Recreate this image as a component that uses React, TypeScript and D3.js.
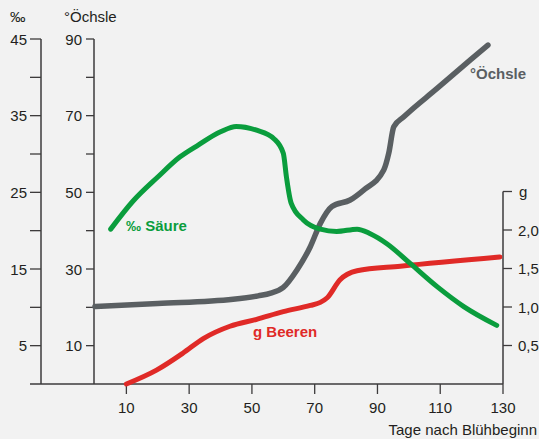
import React from "react";
import * as d3 from "d3";

const W = 539;
const H = 439;

// Säure (‰)
const saureDays = [5, 12, 20, 27, 33, 40, 45, 51.5, 57, 60, 61, 62.5, 66.4, 71.8, 77, 83.5, 87.7, 93, 100.5, 109, 117.5, 128];
const saureVals = [20.2, 23.8, 27.0, 29.6, 31.2, 32.9, 33.6, 33.1, 32.0, 30.1, 27.0, 23.6, 21.4, 20.2, 19.9, 20.2, 19.6, 18.3, 15.7, 12.7, 10.1, 7.65];

// Öchsle (°)
const oechsleDays = [0, 20, 44, 52, 56, 60, 64.3, 68.6, 71.8, 75.5, 81.3, 85.6, 92, 93.6, 95.2, 98.4, 109, 119.7, 125.2];
const oechsleVals = [20.2, 21.0, 22.1, 23.0, 23.7, 25.2, 29.7, 35.8, 41.9, 46.3, 48.0, 50.6, 55.8, 60.2, 67.1, 69.7, 77.1, 84.6, 88.4];

// Beerengewicht (g)
const beerenDays = [10, 19.6, 28, 34.5, 43, 51.5, 60, 68.6, 71.8, 74, 78, 83.5, 97.3, 129];
const beerenVals = [0, 0.18, 0.4, 0.59, 0.75, 0.84, 0.94, 1.02, 1.06, 1.12, 1.35, 1.47, 1.53, 1.65];

const xTicks = [10, 30, 50, 70, 90, 110, 130];
const saureTicks = [5, 10, 15, 20, 25, 30, 35, 40, 45];
const saureLabels = [5, 15, 25, 35, 45];
const oechsleTicks = [10, 20, 30, 40, 50, 60, 70, 80, 90];
const oechsleLabels = [10, 30, 50, 70, 90];
const gTicks = [0.5, 1.0, 1.5, 2.0, 2.5];
const gLabels = ["0,5", "1,0", "1,5", "2,0"];

const x = d3.scaleLinear().domain([0, 130]).range([95, 503]);
const yS = d3.scaleLinear().domain([0, 45]).range([384, 39]);
const yO = d3.scaleLinear().domain([0, 90]).range([384, 39]);
const yG = d3.scaleLinear().domain([0, 2.5]).range([384, 191.5]);

const AX = "#3d3b3c";
const TXT = "#231f20";
const FONT = "'Liberation Sans', Arial, sans-serif";

function mkLine(days: number[], vals: number[], y: d3.ScaleLinear<number, number>) {
  const pts = days.map((d, i) => [d, vals[i]] as [number, number]);
  return d3
    .line<[number, number]>()
    .x((p) => x(p[0]))
    .y((p) => y(p[1]))
    .curve(d3.curveMonotoneX)(pts) as string;
}

export default function App() {
  const axL = 41;
  const axO = 94;
  const base = 384;
  const axR = x(130);
  return (
    <svg
      width={W}
      height={H}
      style={{ position: "absolute", left: 0, top: 0, background: "#f2f2f2" }}
      fontFamily={FONT}
    >
      <rect x={0} y={0} width={W} height={H} fill="#f2f2f2" />
      {/* left ‰ axis */}
      <line x1={axL} x2={axL} y1={yS(45)} y2={base} stroke={AX} strokeWidth={1.5} />
      {saureTicks.map((t) => (
        <line key={"st" + t} x1={axL - 11} x2={axL} y1={yS(t)} y2={yS(t)} stroke={AX} strokeWidth={1.3} />
      ))}
      {saureLabels.map((t) => (
        <text key={"sl" + t} x={27} y={yS(t) + 5.5} fontSize={15} fill={TXT} textAnchor="end">
          {t}
        </text>
      ))}
      <text x={10} y={22} fontSize={15.5} fill={TXT}>‰</text>

      {/* Öchsle axis */}
      <line x1={axO} x2={axO} y1={yO(90)} y2={base} stroke={AX} strokeWidth={1.5} />
      {oechsleTicks.map((t) => (
        <line key={"ot" + t} x1={axO - 8} x2={axO} y1={yO(t)} y2={yO(t)} stroke={AX} strokeWidth={1.3} />
      ))}
      {oechsleLabels.map((t) => (
        <text key={"ol" + t} x={82} y={yO(t) + 5.5} fontSize={15} fill={TXT} textAnchor="end">
          {t}
        </text>
      ))}
      <text x={64} y={22} fontSize={15} fill={TXT}>°Öchsle</text>

      {/* baseline */}
      <line x1={30} x2={axR} y1={base} y2={base} stroke={AX} strokeWidth={1.5} />
      {xTicks.map((t) => (
        <g key={"xt" + t}>
          <line x1={x(t)} x2={x(t)} y1={base} y2={base + 10} stroke={AX} strokeWidth={1.3} />
          <text x={x(t)} y={413} fontSize={15} fill={TXT} textAnchor="middle">
            {t}
          </text>
        </g>
      ))}
      <text x={537} y={435} fontSize={15} fill={TXT} textAnchor="end">Tage nach Blühbeginn</text>

      {/* right g axis */}
      <line x1={axR} x2={axR} y1={yG(2.5)} y2={base} stroke={AX} strokeWidth={1.5} />
      {gTicks.map((t) => (
        <line key={"gt" + t} x1={axR} x2={axR + 9} y1={yG(t)} y2={yG(t)} stroke={AX} strokeWidth={1.3} />
      ))}
      {gLabels.map((l, i) => (
        <text key={"gl" + l} x={518} y={yG(gTicks[i]) + 5.5} fontSize={15} fill={TXT}>
          {l}
        </text>
      ))}
      <text x={519} y={yG(2.5) + 5} fontSize={15} fill={TXT}>g</text>

      {/* series */}
      <path d={mkLine(oechsleDays, oechsleVals, yO)} fill="none" stroke="#5a5f62" strokeWidth={5.5} strokeLinecap="round" strokeLinejoin="round" />
      <path d={mkLine(beerenDays, beerenVals, yG)} fill="none" stroke="#e02a27" strokeWidth={5} strokeLinecap="round" strokeLinejoin="round" />
      <path d={mkLine(saureDays, saureVals, yS)} fill="none" stroke="#0a9d3d" strokeWidth={5} strokeLinecap="round" strokeLinejoin="round" />

      {/* series labels */}
      <text x={126} y={231} fontSize={15} fontWeight="bold" fill="#0a9d3d">‰ Säure</text>
      <text x={253} y={337} fontSize={15} fontWeight="bold" fill="#e02a27">g Beeren</text>
      <text x={470} y={79} fontSize={15} fontWeight="bold" fill="#5a5f62">°Öchsle</text>
    </svg>
  );
}
